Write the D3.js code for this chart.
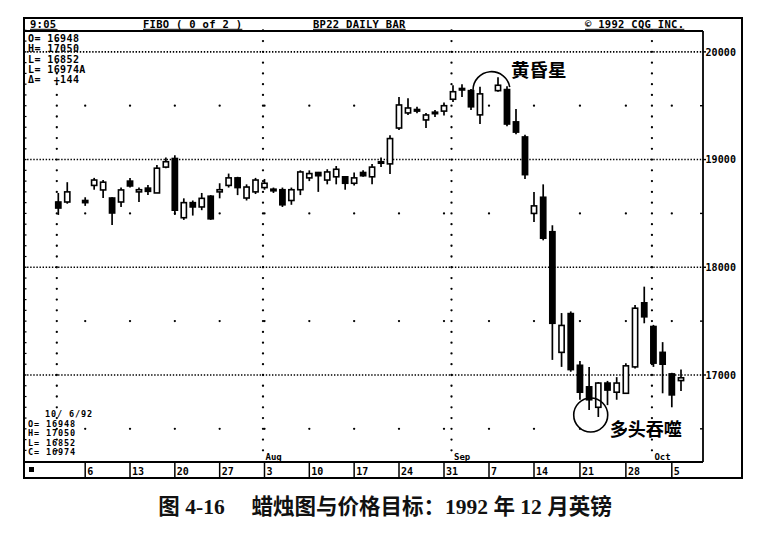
<!DOCTYPE html>
<html><head><meta charset="utf-8">
<script src="https://cdn.jsdelivr.net/npm/d3@7"></script>
<style>
html,body{margin:0;padding:0;background:#fff;}
svg{display:block;}
.mono{font-family:"DejaVu Sans Mono","Liberation Mono",monospace;font-weight:bold;fill:#000;}
.cjk{font-family:"Noto Sans CJK SC",sans-serif;font-weight:bold;fill:#000;}
.cap{font-family:"Liberation Serif","Noto Sans CJK SC",serif;font-weight:bold;fill:#111;}
</style></head><body>
<svg id="chart" width="771" height="537"></svg>
<script>
// ---------- data ----------
const dates = ["1992-07-01","1992-07-02",
"1992-07-06","1992-07-07","1992-07-08","1992-07-09","1992-07-10",
"1992-07-13","1992-07-14","1992-07-15","1992-07-16","1992-07-17",
"1992-07-20","1992-07-21","1992-07-22","1992-07-23","1992-07-24",
"1992-07-27","1992-07-28","1992-07-29","1992-07-30","1992-07-31",
"1992-08-03","1992-08-04","1992-08-05","1992-08-06","1992-08-07",
"1992-08-10","1992-08-11","1992-08-12","1992-08-13","1992-08-14",
"1992-08-17","1992-08-18","1992-08-19","1992-08-20","1992-08-21",
"1992-08-24","1992-08-25","1992-08-26","1992-08-27","1992-08-28",
"1992-08-31","1992-09-01","1992-09-02","1992-09-03","1992-09-04",
"1992-09-08","1992-09-09","1992-09-10","1992-09-11",
"1992-09-14","1992-09-15","1992-09-16","1992-09-17","1992-09-18",
"1992-09-21","1992-09-22","1992-09-23","1992-09-24","1992-09-25",
"1992-09-28","1992-09-29","1992-09-30","1992-10-01","1992-10-02",
"1992-10-05","1992-10-06"];
const opens  = [18606,18606, 18620,18760,18718,18643,18606, 18800,18700,18735,18690,18930,
 19010,18460,18600,18560,18660, 18700,18760,18830,18643,18700, 18740,18725,18720,18620,18720,
 18830,18880,18810,18840,18840, 18780,18880,18840,18970,18960, 19293,19433,19450,19368,19430,
 19450,19560,19650,19640,19415, 19640,19650,19350,19210, 18500,18650,18330,17210,17570,
 17090,16890,16700,16925,16840, 16830,17075,17670,17450,17210, 17010,16948];
const highs  = [18690,18790, 18650,18830,18810,18650,18740, 18830,18740,18765,18950,19020,
 19040,18640,18620,18690,18670, 18780,18870,18840,18770,18830, 18820,18740,18740,18740,18900,
 18900,18885,18910,18940,18845, 18880,18900,18960,19020,19225, 19581,19570,19490,19433,19460,
 19530,19690,19700,19655,19675, 19765,19680,19470,19230, 18700,18770,18390,17575,17590,
 17130,17075,16935,16945,16980, 17110,17650,17820,17465,17305, 17020,17050];
const lows   = [18486,18590, 18570,18720,18643,18393,18560, 18740,18606,18670,18690,18920,
 18486,18440,18480,18530,18440, 18640,18740,18670,18620,18680, 18720,18690,18560,18580,18670,
 18800,18700,18770,18770,18720, 18760,18840,18770,18930,18865, 19275,19414,19430,19293,19395,
 19410,19535,19580,19460,19330, 19630,19310,19235,18820, 18420,18250,17140,17075,17030,
 16770,16675,16610,16720,16770, 16830,17060,17480,17075,16830, 16700,16852];
const closes = [18550,18700, 18600,18810,18790,18504,18718, 18755,18720,18705,18920,18980,
 18530,18600,18560,18640,18450, 18720,18830,18740,18745,18810, 18780,18710,18580,18720,18885,
 18870,18850,18885,18910,18780, 18830,18850,18930,18980,19195, 19507,19479,19465,19414,19440,
 19500,19630,19660,19490,19610, 19690,19330,19255,18860, 18570,18270,17480,17460,17050,
 16840,16770,16925,16860,16925, 17085,17620,17540,17110,17100, 16815,16974];

const weekTickDates  = ["1992-07-06","1992-07-13","1992-07-20","1992-07-27","1992-08-03","1992-08-10",
 "1992-08-17","1992-08-24","1992-08-31","1992-09-07","1992-09-14","1992-09-21","1992-09-28","1992-10-05"];
const weekTickLabels = ["6","13","20","27","3","10","17","24","31","7","14","21","28","5"];
const monthStartDates = ["1992-07-01","1992-08-03","1992-09-01","1992-10-01"];
const monthLabels     = ["","Aug","Sep","Oct"];
const majorPrices = [17000,18000,19000,20000];
const priceLabels = ["17000","18000","19000","20000"];
const minorPrices = [16500,17500,18500,19500];
const headerTexts = ["9:05","FIBO ( 0 of 2 )","BP22 DAILY BAR","© 1992 CQG INC."];
const infoTop    = ["O= 16948","H= 17050","L= 16852","L= 16974A","Δ=  +144"];
const infoBottom = ["10/ 6/92","O= 16948","H= 17050","L= 16852","C= 16974"];
const eveningStarLabel = "黄昏星";
const engulfingLabel = "多头吞噬";
const caption = "图 4-16　 蜡烛图与价格目标：1992 年 12 月英镑";

// ---------- helpers ----------
const parse = d3.utcParse("%Y-%m-%d");
const day0 = parse(dates[0]);
function wd(s){ // weekday slot index
  const d = parse(s);
  return d3.utcDays(day0, d).filter(t => t.getUTCDay()!==0 && t.getUTCDay()!==6).length;
}
const candles = dates.map((d,i)=>({d, i:wd(d), o:opens[i], h:highs[i], l:lows[i], c:closes[i]}));

const L=24, R=703, OR=742, T=18, HB=31, PB=462, B=478;
const x = d3.scaleLinear().domain([0,37,53,69]).range([58.3,390,534,681]);
const y = d3.scaleLinear().domain([16192,20203]).range([PB,HB-1]);

const svg = d3.select("#chart");
svg.append("rect").attr("width",771).attr("height",537).attr("fill","#fff");

// ---------- grid ----------
const g = svg.append("g");
g.selectAll("line.h").data(majorPrices).join("line")
  .attr("x1",L).attr("x2",R).attr("y1",d=>y(d)).attr("y2",d=>y(d))
  .attr("stroke","#000").attr("stroke-width",1.6).attr("stroke-dasharray","1.4 1.7");
const vDots = d3.range(16300,20201,100);
monthStartDates.forEach(m=>{
  const xx = x(wd(m))-1.5;
  g.selectAll(null).data(vDots).join("circle")
    .attr("cx",xx).attr("cy",d=>y(d)).attr("r",1.15).attr("fill","#000");
});
weekTickDates.forEach(w=>{
  g.selectAll(null).data(minorPrices).join("circle")
    .attr("cx",x(wd(w))).attr("cy",d=>y(d)).attr("r",1.15).attr("fill","#000");
});
// border ticks
g.selectAll(null).data(minorPrices).join("line")
  .attr("x1",R-3).attr("x2",R).attr("y1",d=>y(d)).attr("y2",d=>y(d))
  .attr("stroke","#000").attr("stroke-width",1.4);
g.selectAll(null).data(vDots).join("line")
  .attr("x1",L).attr("x2",L+2.5).attr("y1",d=>y(d)).attr("y2",d=>y(d))
  .attr("stroke","#000").attr("stroke-width",1.2);

// ---------- candles ----------
const cg = svg.append("g");
const bw = 5.2;
cg.selectAll("line.w").data(candles).join("line")
  .attr("x1",d=>x(d.i)).attr("x2",d=>x(d.i))
  .attr("y1",d=>y(d.h)).attr("y2",d=>y(d.l))
  .attr("stroke","#000").attr("stroke-width",1.7);
cg.selectAll("rect.b").data(candles).join("rect")
  .attr("x",d=>x(d.i)-bw/2).attr("width",bw)
  .attr("y",d=>y(Math.max(d.o,d.c)))
  .attr("height",d=>Math.max(1.5, Math.abs(y(d.o)-y(d.c))))
  .attr("fill",d=>d.c>=d.o?"#fff":"#000")
  .attr("stroke","#000").attr("stroke-width",1.6);

// ---------- frame ----------
const fr = svg.append("g").attr("stroke","#000").attr("fill","none");
fr.append("path").attr("d",`M${L},${T}H${OR}V${B}H${L}Z`).attr("stroke-width",2);
fr.append("line").attr("x1",L).attr("x2",R).attr("y1",HB).attr("y2",HB).attr("stroke-width",1.8);
fr.append("line").attr("x1",R).attr("x2",R).attr("y1",HB).attr("y2",PB).attr("stroke-width",1.8);
fr.append("line").attr("x1",L).attr("x2",R).attr("y1",PB).attr("y2",PB).attr("stroke-width",1.8);

// header texts
const hx = [30,143,313,585];
headerTexts.forEach((t,k)=>{
  const tx = svg.append("text").attr("class","mono").attr("x",hx[k]).attr("y",27.5)
    .attr("font-size",10.5).attr("letter-spacing",0.3).style("white-space","pre").text(t);
  const w = tx.node().getComputedTextLength();
  svg.append("line").attr("x1",hx[k]).attr("x2",hx[k]+w).attr("y1",29.3).attr("y2",29.3)
    .attr("stroke","#000").attr("stroke-width",1);
});

// info blocks
const topBase=[41.5,52,62.5,73,83];
infoTop.forEach((t,k)=>svg.append("text").attr("class","mono").attr("x",28).attr("y",topBase[k])
  .attr("font-size",10).attr("letter-spacing",0.4).style("white-space","pre").text(t));
const botBase=[417,426.5,436,445.5,455];
infoBottom.forEach((t,k)=>svg.append("text").attr("class","mono").attr("x",k===0?45:28).attr("y",botBase[k])
  .attr("font-size",8.5).attr("letter-spacing",0.9).style("white-space","pre").text(t));

// right axis labels
svg.selectAll("text.pl").data(majorPrices).join("text").attr("class","mono")
  .attr("x",R+2.5).attr("y",d=>y(d)+3.8).attr("font-size",10).attr("letter-spacing",0.1)
  .text((d,k)=>priceLabels[k]);
svg.selectAll("line.pt").data(majorPrices).join("line")
  .attr("x1",R).attr("x2",R+3).attr("y1",d=>y(d)).attr("y2",d=>y(d)).attr("stroke","#000").attr("stroke-width",1.4);

// month labels
monthStartDates.forEach((m,k)=>{
  if(!monthLabels[k]) return;
  svg.append("text").attr("class","mono").attr("x",x(wd(m))+1).attr("y",459.5)
    .attr("font-size",9).text(monthLabels[k]);
});

// date strip
svg.append("rect").attr("x",29).attr("y",467).attr("width",5).attr("height",5).attr("fill","#000");
weekTickDates.forEach((w,k)=>{
  const xx = x(wd(w));
  svg.append("line").attr("x1",xx).attr("x2",xx).attr("y1",PB).attr("y2",B)
    .attr("stroke","#000").attr("stroke-width",1.5);
  svg.append("text").attr("class","mono").attr("x",xx+2).attr("y",474.5)
    .attr("font-size",10).text(weekTickLabels[k]);
});

// ---------- annotations ----------
const idxOf = s => candles.find(c=>c.d===s);
const a1 = idxOf("1992-09-04"), a2 = idxOf("1992-09-09"), star = idxOf("1992-09-08");
const acx = (x(a1.i)+x(a2.i))/2 - 2, ar = (x(a2.i)-x(a1.i))/2 + 5, acy = y(star.h) + 13;
const p = d3.path();
p.arc(acx, acy, ar, Math.PI, 2*Math.PI-0.17, false);
svg.append("path").attr("d",p.toString()).attr("fill","none").attr("stroke","#000").attr("stroke-width",1.6);
svg.append("text").attr("class","cjk").attr("x",acx+ar+1).attr("y",acy-13).attr("font-size",18.5)
  .text(eveningStarLabel);

const e1 = idxOf("1992-09-22"), e2 = idxOf("1992-09-23");
const ecx = (x(e1.i)+x(e2.i))/2 - 3, ecy = y(e2.l) - 2, er = 17;
svg.append("circle").attr("cx",ecx).attr("cy",ecy).attr("r",er).attr("fill","none")
  .attr("stroke","#000").attr("stroke-width",1.6);
svg.append("text").attr("class","cjk").attr("x",ecx+er+2).attr("y",ecy+21).attr("font-size",18)
  .text(engulfingLabel);

// caption
svg.append("text").attr("class","cap").attr("x",385).attr("y",514).attr("text-anchor","middle")
  .attr("font-size",21.5).style("white-space","pre").text(caption);
</script>
</body></html>
